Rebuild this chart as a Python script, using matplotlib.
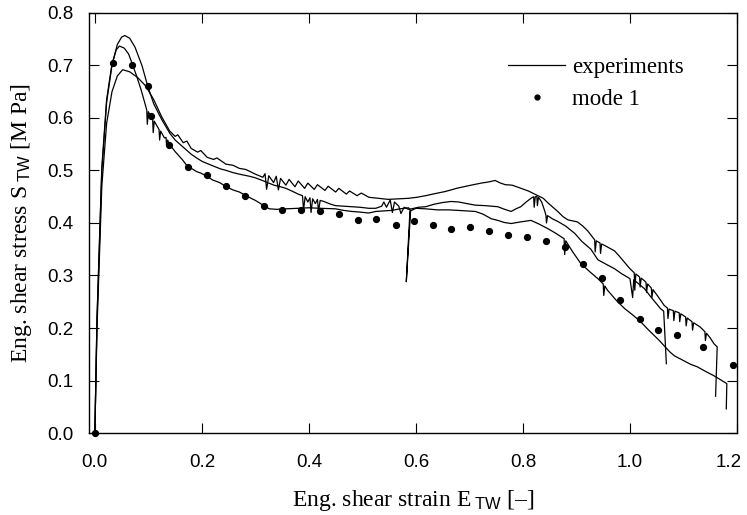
import matplotlib
matplotlib.use("Agg")
import matplotlib.pyplot as plt
import matplotlib.transforms as mtransforms
from matplotlib.lines import Line2D

# --- data (strain [-], stress [MPa]) ---
# experiment 1: lowest peak, upper line later on
exp1_x = [0.000, 0.004, 0.013, 0.022, 0.032, 0.042, 0.052, 0.065, 0.080, 0.095, 0.110, 0.125, 0.140,
          0.150, 0.155, 0.165, 0.172, 0.180, 0.192, 0.198, 0.210, 0.222, 0.228, 0.245, 0.258, 0.270,
          0.282, 0.300, 0.314,
          0.318, 0.321, 0.325, 0.334, 0.339, 0.343, 0.347, 0.357, 0.363, 0.374, 0.380, 0.392, 0.398,
          0.410, 0.416, 0.430, 0.436, 0.450, 0.456, 0.470, 0.476, 0.490, 0.498, 0.512,
          0.530, 0.548, 0.566, 0.586, 0.602, 0.618, 0.636, 0.655, 0.676, 0.698, 0.722, 0.735, 0.748,
          0.758, 0.767, 0.780, 0.791, 0.810, 0.828, 0.838, 0.847, 0.856, 0.865, 0.875, 0.884, 0.893,
          0.902, 0.912, 0.921, 0.928, 0.934,
          0.935, 0.937, 0.944, 0.945, 0.947, 0.953, 0.962, 0.971, 0.980, 0.990, 0.999, 1.008, 1.009,
          1.011, 1.018, 1.019, 1.021, 1.027, 1.030, 1.031, 1.033, 1.040, 1.041, 1.043, 1.051, 1.064,
          1.070, 1.071, 1.073, 1.081, 1.082, 1.084, 1.092, 1.093, 1.095, 1.104, 1.105, 1.107, 1.116,
          1.117, 1.119, 1.131, 1.140, 1.141, 1.143, 1.150, 1.157, 1.163, 1.160]
exp1_y = [0.000, 0.200, 0.470, 0.590, 0.650, 0.680, 0.692, 0.688, 0.677, 0.661, 0.635, 0.602, 0.575,
          0.565, 0.568, 0.553, 0.556, 0.542, 0.535, 0.538, 0.525, 0.521, 0.524, 0.512, 0.510, 0.504,
          0.502, 0.493, 0.487,
          0.494, 0.464, 0.490, 0.477, 0.489, 0.463, 0.485, 0.472, 0.483, 0.469, 0.480, 0.466, 0.476,
          0.464, 0.473, 0.462, 0.470, 0.459, 0.466, 0.455, 0.461, 0.452, 0.457, 0.449,
          0.447, 0.445, 0.446, 0.447, 0.449, 0.452, 0.456, 0.460, 0.466, 0.471, 0.476, 0.478, 0.481,
          0.476, 0.473, 0.472, 0.468, 0.461, 0.452, 0.447, 0.438, 0.430, 0.422, 0.412, 0.406, 0.404,
          0.402, 0.394, 0.385, 0.376, 0.368,
          0.345, 0.366, 0.362, 0.342, 0.360, 0.357, 0.352, 0.347, 0.337, 0.325, 0.314, 0.305, 0.272,
          0.303, 0.297, 0.278, 0.295, 0.290, 0.287, 0.268, 0.284, 0.276, 0.258, 0.273, 0.262, 0.243,
          0.238, 0.218, 0.236, 0.233, 0.214, 0.232, 0.229, 0.212, 0.227, 0.221, 0.204, 0.219, 0.212,
          0.196, 0.210, 0.202, 0.193, 0.176, 0.190, 0.181, 0.170, 0.164, 0.070]

# experiment 2: highest peak, middle line
exp2_x = [0.000, 0.004, 0.013, 0.022, 0.032, 0.042, 0.050, 0.056, 0.065, 0.075, 0.088, 0.099, 0.110,
          0.125, 0.140, 0.150, 0.160, 0.170, 0.180, 0.190, 0.201, 0.213, 0.225, 0.235, 0.246, 0.258,
          0.270, 0.289, 0.300, 0.313, 0.325, 0.335, 0.347, 0.357, 0.370, 0.380,
          0.388, 0.390, 0.393, 0.398, 0.402, 0.404, 0.407, 0.412, 0.416, 0.418, 0.421, 0.428, 0.440,
          0.450, 0.465, 0.480, 0.495, 0.512,
          0.525, 0.536, 0.540, 0.545, 0.552, 0.556, 0.560, 0.568, 0.572, 0.578, 0.586, 0.592, 0.605,
          0.618, 0.635, 0.650, 0.666, 0.680, 0.695, 0.711, 0.730, 0.753, 0.766, 0.778, 0.787, 0.796,
          0.806, 0.815, 0.820, 0.821, 0.823, 0.826, 0.827, 0.829, 0.835, 0.840, 0.843, 0.844, 0.846,
          0.855, 0.865, 0.880, 0.897, 0.910, 0.927, 0.940, 0.958, 0.971, 0.985, 1.000, 1.005, 1.007,
          1.027, 1.040, 1.057, 1.063, 1.068]
exp2_y = [0.000, 0.215, 0.500, 0.630, 0.700, 0.740, 0.754, 0.757, 0.752, 0.735, 0.700, 0.660, 0.627,
          0.597, 0.571, 0.558, 0.549, 0.540, 0.531, 0.524, 0.517, 0.512, 0.507, 0.503, 0.500, 0.496,
          0.493, 0.489, 0.486, 0.481, 0.476, 0.472, 0.469, 0.466, 0.460, 0.455,
          0.452, 0.425, 0.450, 0.440, 0.448, 0.420, 0.446, 0.437, 0.445, 0.422, 0.443, 0.441, 0.436,
          0.433, 0.432, 0.431, 0.430, 0.428,
          0.428, 0.432, 0.440, 0.430, 0.444, 0.420, 0.440, 0.432, 0.418, 0.430, 0.426, 0.427, 0.430,
          0.431, 0.436, 0.439, 0.441, 0.440, 0.437, 0.434, 0.433, 0.431, 0.426, 0.422, 0.427, 0.431,
          0.440, 0.447, 0.450, 0.430, 0.450, 0.451, 0.433, 0.449, 0.440, 0.425, 0.415, 0.400, 0.414,
          0.408, 0.403, 0.394, 0.380, 0.365, 0.350, 0.330, 0.320, 0.313, 0.303, 0.294, 0.258, 0.292,
          0.275, 0.258, 0.237, 0.232, 0.132]

# experiment 3: steep drop after the peak, lowest line
exp3_x = [0.000, 0.004, 0.013, 0.022, 0.032, 0.040, 0.046, 0.055, 0.063, 0.070, 0.078, 0.086, 0.093,
          0.097, 0.098, 0.100, 0.104, 0.108, 0.109, 0.111, 0.116, 0.120, 0.121, 0.123, 0.130, 0.133,
          0.134, 0.136, 0.140, 0.150, 0.157, 0.164, 0.170, 0.175, 0.182, 0.190, 0.198, 0.208, 0.220,
          0.233, 0.246, 0.258, 0.270, 0.283, 0.292, 0.300, 0.308, 0.316, 0.326, 0.340, 0.357, 0.380,
          0.400, 0.420, 0.450, 0.465, 0.480, 0.493, 0.512, 0.525, 0.540, 0.555, 0.570, 0.586, 0.589,
          0.582, 0.590, 0.600, 0.618, 0.640, 0.660, 0.679, 0.695, 0.711, 0.725, 0.741, 0.753, 0.765,
          0.778, 0.795, 0.815, 0.830, 0.847, 0.862, 0.877, 0.878, 0.880, 0.893, 0.908, 0.924, 0.940,
          0.950, 0.951, 0.953, 0.958, 0.975, 0.990, 1.005, 1.020, 1.033, 1.046, 1.055, 1.064, 1.074,
          1.083, 1.100, 1.113, 1.126, 1.140, 1.157, 1.170, 1.181, 1.180]
exp3_y = [0.000, 0.220, 0.505, 0.635, 0.703, 0.730, 0.737, 0.733, 0.722, 0.703, 0.680, 0.655, 0.630,
          0.615, 0.588, 0.612, 0.603, 0.598, 0.572, 0.594, 0.585, 0.578, 0.558, 0.575, 0.562, 0.563,
          0.548, 0.558, 0.549, 0.536, 0.528, 0.520, 0.512, 0.506, 0.503, 0.498, 0.495, 0.490, 0.482,
          0.477, 0.469, 0.463, 0.459, 0.452, 0.447, 0.443, 0.438, 0.433, 0.427, 0.426, 0.427, 0.428,
          0.429, 0.428, 0.427, 0.424, 0.422, 0.421, 0.419, 0.422, 0.423, 0.424, 0.427, 0.429, 0.426,
          0.288, 0.423, 0.428, 0.427, 0.425, 0.425, 0.424, 0.423, 0.422, 0.417, 0.408, 0.405, 0.401,
          0.399, 0.402, 0.405, 0.398, 0.389, 0.380, 0.370, 0.340, 0.366, 0.345, 0.323, 0.308, 0.294,
          0.284, 0.262, 0.280, 0.272, 0.252, 0.237, 0.225, 0.212, 0.198, 0.185, 0.176, 0.166, 0.155,
          0.147, 0.138, 0.131, 0.126, 0.118, 0.109, 0.101, 0.094, 0.046]

# mode 1 simulation points
mode1_x = [0.000, 0.033, 0.069, 0.099, 0.104, 0.138, 0.175, 0.210, 0.246, 0.281, 0.316, 0.350, 0.385,
           0.420, 0.456, 0.491, 0.526, 0.562, 0.597, 0.631, 0.666, 0.701, 0.737, 0.772, 0.807, 0.843,
           0.878, 0.913, 0.947, 0.982, 1.018, 1.053, 1.088, 1.137, 1.192]
mode1_y = [0.000, 0.705, 0.700, 0.660, 0.603, 0.548, 0.507, 0.492, 0.471, 0.452, 0.433, 0.424, 0.424,
           0.422, 0.418, 0.406, 0.408, 0.397, 0.403, 0.397, 0.389, 0.393, 0.385, 0.378, 0.374, 0.366,
           0.355, 0.321, 0.296, 0.254, 0.218, 0.197, 0.187, 0.164, 0.130]

x_ticks = [0.0, 0.2, 0.4, 0.6, 0.8, 1.0, 1.2]
y_ticks = [0.0, 0.1, 0.2, 0.3, 0.4, 0.5, 0.6, 0.7, 0.8]

# fonts: serif for labels, sans for numbers / subscripts
plt.rcParams['font.family'] = ['Liberation Sans', 'DejaVu Sans']
plt.rcParams['mathtext.fontset'] = 'custom'
plt.rcParams['mathtext.rm'] = 'Liberation Serif'
plt.rcParams['mathtext.sf'] = 'Liberation Sans'
plt.rcParams['mathtext.it'] = 'Liberation Serif:italic'

fig = plt.figure(figsize=(7.47, 5.15), dpi=100)
ax = fig.add_axes([0.1191, 0.1592, 0.8675, 0.8156])

for xs, ys in [(exp1_x, exp1_y), (exp2_x, exp2_y), (exp3_x, exp3_y)]:
    ax.plot(xs, ys, color='black', linewidth=0.9)
ax.plot(mode1_x, mode1_y, linestyle='none', marker='o', markersize=4.2,
        color='black', clip_on=False, zorder=3)

ax.set_xlim(-0.011, 1.2)
ax.set_ylim(0.0, 0.8)
ax.set_xticks(x_ticks)
ax.set_yticks(y_ticks)
ax.set_xticklabels([f'{v:.1f}' for v in x_ticks])
ax.set_yticklabels([f'{v:.1f}' for v in y_ticks])
ax.tick_params(direction='in', length=7, width=0.8, top=True, right=True, labelsize=13.5)
ax.tick_params(axis='x', pad=15)
ax.tick_params(axis='y', pad=11)
for sp in ax.spines.values():
    sp.set_linewidth(1.0)

# the last x label sits at the figure edge; nudge it left so it stays inside
last = ax.get_xticklabels()[-1]
last.set_transform(last.get_transform() +
                   mtransforms.ScaledTranslation(-6 / 72, 0, fig.dpi_scale_trans))

ax.set_xlabel(r'Eng. shear strain E$_{\ \mathsf{TW}}$ [–]', family='Liberation Serif',
              fontsize=17, labelpad=12)
ax.set_ylabel(r'Eng. shear stress S$_{\ \mathsf{TW}}$ [M Pa]', family='Liberation Serif',
              fontsize=17, labelpad=10)

# legend without frame
handles = [Line2D([], [], color='black', linewidth=0.9),
           Line2D([], [], linestyle='none', marker='o', markersize=3.5, color='black')]
ax.legend(handles, ['experiments', 'mode 1'], loc='upper left',
          bbox_to_anchor=(0.615, 0.945), frameon=False, handlelength=2.5,
          handletextpad=0.3, labelspacing=0.5, prop={'family': 'Liberation Serif', 'size': 16.5})

fig.savefig('out.png', dpi=100)
